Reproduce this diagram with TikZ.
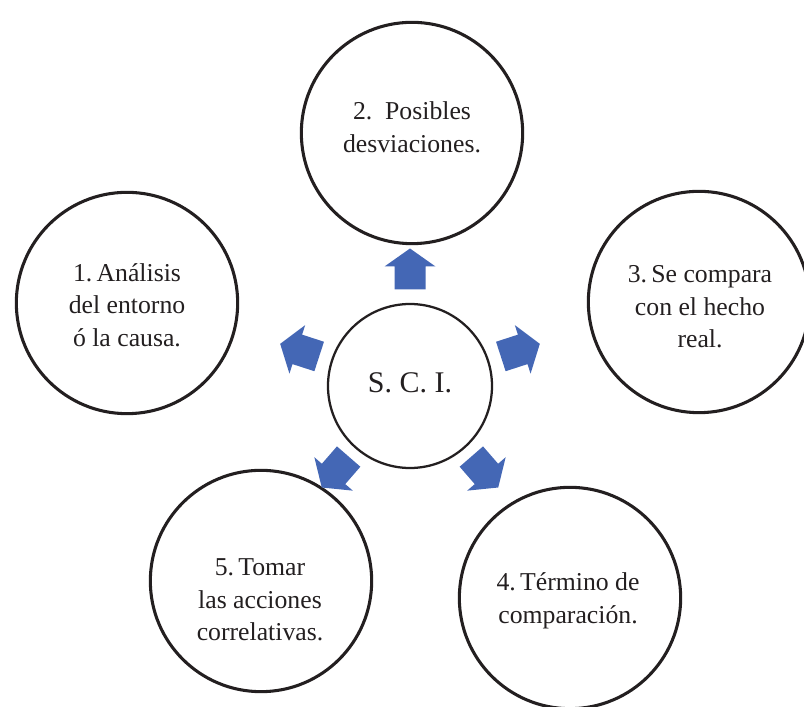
\documentclass[tikz,border=0pt]{standalone}
\usepackage{fontspec}
\setmainfont{Liberation Serif}
\usetikzlibrary{calc}
\definecolor{ink}{HTML}{231F20}
\definecolor{arrowblue}{HTML}{4467B5}
\begin{document}
\begin{tikzpicture}[x=0.75pt,y=0.75pt,
  bigcircleA/.style={circle,draw=ink,line width=2.3pt,minimum size=166pt,inner sep=0pt},
  smallcircle/.style={circle,draw=ink,line width=1.7pt,minimum size=123pt,inner sep=0pt},
  label/.style={align=center,text=ink,font=\fontsize{19.3pt}{24.5pt}\selectfont,inner sep=0pt},
  blockarrow/.style={fill=arrowblue}]
\useasboundingbox (0,0) rectangle (804,707);
% circles
\node[smallcircle] (c) at (410,321) {};
\node[bigcircleA] (n2) at (412,574) {};
\node[bigcircleA] (n1) at (127,404) {};
\node[bigcircleA] (n3) at (699,405) {};
\node[bigcircleA] (n5) at (261,126) {};
\node[bigcircleA] (n4) at (570,109) {};
% texts
\node[label,font=\fontsize{22.5pt}{27pt}\selectfont] (tc) at (410,324) {S. C. I.};
\node[label] (t2) at (412,580) {2.\ \ Posibles\\desviaciones.};
\node[label] (t1) at (127,402) {1.\,Análisis\\del entorno\\ó la causa.};
\node[label] (t3) at (700,400) {3.\,Se compara\\con el hecho\\real.};
\node[label] (t5) at (260,107) {5.\,Tomar\\las acciones\\correlativas.};
\node[label] (t4) at (568,106) {4.\,Término de\\comparación.};
% block arrows
\begin{scope}
\clip (0,215) rectangle (804,707);
\foreach \a/\d in {90/117,162/116,18/116,229/114,311/114}{
  \fill[blockarrow,shift={($(c.center)+(\a:\d)$)},rotate=\a]
    (-20.5,-15.5) -- (2.5,-15.5) -- (2.5,-25.5) -- (20.5,0) -- (2.5,25.5) -- (2.5,15.5) -- (-20.5,15.5) -- cycle;
}
\end{scope}
\end{tikzpicture}
\end{document}
